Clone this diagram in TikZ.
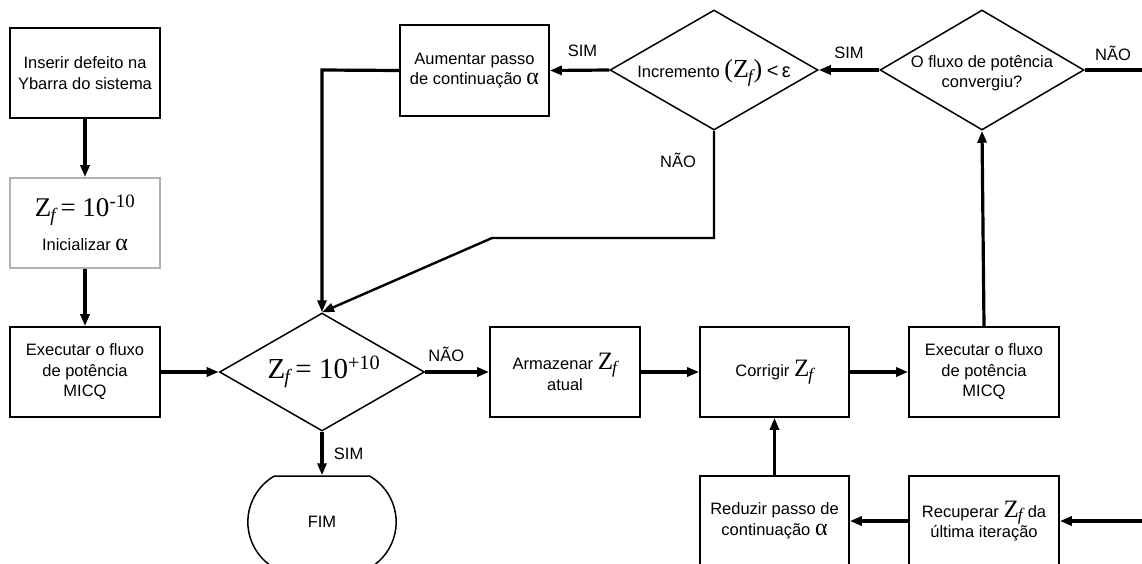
\documentclass[tikz,border=0pt]{standalone}
\usepackage{fontspec}
\setmainfont{Liberation Sans}
\newfontfamily\tms{Liberation Serif}
\usetikzlibrary{shapes.geometric,shapes.misc,arrows.meta}
\newcommand{\Zf}[1]{{\tms\fontsize{#1}{#1}\selectfont Z\kern-1pt\textsubscript{\itshape f}}}
\newcommand{\al}{{\tms\fontsize{24}{24}\selectfont α}}
\begin{document}
\begin{tikzpicture}[x=1pt,y=-1pt,
  every node/.style={font=\fontsize{16.5}{20.5}\selectfont},
  box/.style={draw,line width=1.7pt,minimum width=150,minimum height=90,align=center,inner sep=2pt},
  dia/.style={diamond,draw,line width=1.5pt,inner sep=0pt},
  arr/.style={line width=3.2pt,-{Triangle[length=12pt,width=9pt]}},
  thinarr/.style={line width=2.4pt,-{Triangle[length=12pt,width=9pt]}},
  lbl/.style={font=\fontsize{16.5}{18}\selectfont}]
\path[use as bounding box,clip] (0,0) rectangle (1142,563);
% left column
\node[box] (ins) at (85,73) {Inserir defeito na\\Ybarra do sistema};
\node[box,draw=gray!60] (init) at (85,223) {{\tms\fontsize{27}{27}\selectfont Z\kern-1pt\textsubscript{\itshape f}\,= 10\textsuperscript{-10}}\\[12pt]Inicializar \al};
\node[box] (ex1) at (85,372) {Executar o fluxo\\de potência\\MICQ};
% decision 1
\node[dia,minimum width=205,minimum height=118] (d1) at (322,372) {};
\node (d1t) at (324,372) {{\tms\fontsize{29}{29}\selectfont Z\kern-1pt\textsubscript{\itshape f}\,= 10\textsuperscript{+10}}};
\node[rounded rectangle,rounded rectangle arc length=120,draw,line width=1.5pt,minimum width=155,minimum height=92] (fim) at (322,522) {FIM};
% middle row
\node[box] (arm) at (565,372) {Armazenar \Zf{25}\\atual};
\node[box,minimum width=149] (cor) at (774.5,372) {Corrigir \Zf{25}};
\node[box] (ex2) at (984,372) {Executar o fluxo\\de potência\\MICQ};
% bottom row
\node[box,minimum width=149] (red) at (774.5,521) {Reduzir passo de\\continuação \al};
\node[box] (rec) at (984,521) {Recuperar \Zf{25} da\\última iteração};
% top row
\node[box,minimum width=149,minimum height=91] (aum) at (474.5,70.5) {Aumentar passo\\de continuação \al};
\node[dia,minimum width=208,minimum height=120] (d2) at (714,70) {};
\node (d2t) at (714,73) {Incremento {\tms\fontsize{26}{26}\selectfont (Z\kern-1pt\textsubscript{\itshape f})} {\fontsize{20}{20}\selectfont <\,ε}};
\node[dia,minimum width=204,minimum height=120] (d3) at (982,70) {};
\node[align=center] (d3t) at (982,73) {O fluxo de potência\\convergiu?};
% coordinates
\coordinate (c1) at (322,70);
\coordinate (k1) at (714,238);
\coordinate (k2) at (492,238);
\coordinate (eR1) at (1142,70);
\coordinate (eR2) at (1142,521);
% connectors
\draw[arr] (ins) -- (init);
\draw[arr] (init) -- (ex1);
\draw[arr] (ex1) -- (d1);
\draw[arr] (d1.south) -- (fim.north) node[lbl,midway,right=7pt] {SIM};
\draw[arr] (d1.east) -- (arm.west) node[lbl,pos=0.33,above=5pt] {NÃO};
\draw[arr] (arm) -- (cor);
\draw[arr] (cor) -- (ex2);
\draw[arr] (ex2.north) -- (d3.south);
\draw[arr] (d3.west) -- (d2.east) node[lbl,midway,above=6pt] {SIM};
\draw[arr] (d2.west) -- (aum.east) node[lbl,pos=0.45,above=9pt] {SIM};
\draw[arr] (aum.west) -- (c1) -- (d1.north);
\draw[thinarr] (d2.south) -- (k1) -- (k2) -- (d1.north);
\node[lbl] (nao2) at (678,160) {NÃO};
\draw[line width=3.2pt] (d3.east) -- (eR1);
\node[lbl] (nao3) at (1113,53) {NÃO};
\draw[arr] (eR2) -- (rec.east);
\draw[arr] (rec.west) -- (red.east);
\draw[arr] (red.north) -- (cor.south);
\end{tikzpicture}
\end{document}
